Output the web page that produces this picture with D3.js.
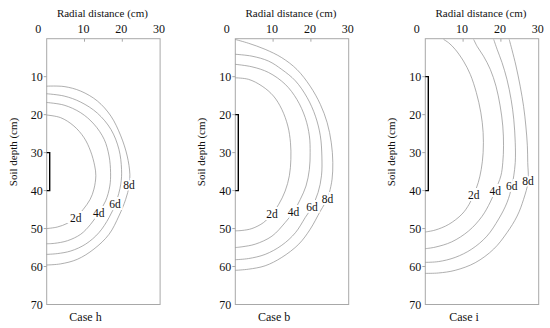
<!DOCTYPE html>
<html>
<head>
<meta charset="utf-8">
<script src="https://d3js.org/d3.v7.min.js"></script>
<style>
  body { margin: 0; background: #fff; }
</style>
</head>
<body>
<script>
"use strict";

// Axis ticks and labels.
var xTickValues = [0, 10, 20, 30];
var yTickValues = [10, 20, 30, 40, 50, 60, 70];
var contourNames = ["2d", "4d", "6d", "8d"];
var caseNames = ["Case h", "Case b", "Case i"];

// Emitter position (soil depth, cm) for each case.
var sourceTop = [30, 20, 10];
var sourceBottom = [40, 40, 40];

// Wetting front contours, [radial distance, soil depth] in cm.
var caseH2d = [[0,20.1],[3.7,20.8],[7.2,23],[9.9,26.1],[11.6,29.6],[12.7,33.5],[13,36.1],[12.5,39.6],[11.5,42.3],[9.7,44.9],[7.7,47.1],[5.5,48.6],[2.8,49.6],[0,50]];
var caseH4d = [[0,16.8],[4.6,17.5],[9,19.5],[12.5,22.5],[15.2,26.5],[16.5,30.9],[16.9,35.3],[16.7,38.8],[15.6,42.7],[13.8,45.8],[11.6,48.9],[9,51.5],[5.5,53.2],[2,53.9],[0,54]];
var caseH6d = [[0,14.5],[4.6,15.1],[9,16.7],[13.4,19.6],[17,23.9],[19.1,29.1],[19.8,34.4],[19.6,38.3],[18.3,43.2],[16.5,47.1],[13.8,51.1],[10.3,54.1],[6.4,55.9],[2.8,56.6],[0,56.8]];
var caseH8d = [[0,12.5],[4.6,12.6],[9,13.8],[13.4,16.4],[17,20.4],[19.6,25.6],[21.3,30.9],[22,35.7],[21.8,38.8],[20.9,42.3],[19.1,46.7],[16.5,51.5],[12.5,55.4],[8.1,58.1],[3.7,59.3],[0,59.6]];

var caseB2d = [[0,10.3],[3.5,10.7],[7.1,12.5],[10.1,15.1],[12.3,18.6],[13.9,23],[14.6,27.4],[14.7,31.8],[14.3,36.1],[13.2,40.1],[11.5,43.6],[9.7,46.2],[7.5,48.4],[4.4,50],[1.8,50.5],[0,50.6]];
var caseB4d = [[0,6.75],[4.4,7.4],[8.8,8.9],[13.2,12],[16.3,16],[18.5,20.8],[19.6,25.6],[19.8,30],[19.6,34.4],[18.7,38.8],[17.2,42.3],[15.4,45.6],[13.2,48.4],[9.7,52],[5.3,54.1],[1.8,54.8],[0,55]];
var caseB6d = [[0,4.1],[4.4,4.6],[8.8,5.9],[12.3,8.1],[15.9,11.1],[19,15.5],[21.2,20.4],[22.5,25.6],[22.9,30.9],[22.8,36.1],[21.9,40.5],[20.3,44.3],[18.5,47.1],[15.9,51.1],[12.3,54.4],[7.9,56.8],[3.5,57.9],[0,58.2]];
var caseB8d = [[0,0.2],[3.5,1.2],[7.9,2.8],[12.3,5],[16.3,8.1],[19.8,12.5],[22.5,17.3],[24.3,22.1],[25.4,27.4],[25.8,32.6],[25.6,37],[24.9,40.5],[24.4,42.1],[22.5,45.4],[19.8,50.2],[16.8,54.1],[12.3,57.6],[7.9,59.8],[3.5,60.7],[0,61]];

var caseI2d = [[4.85,0.2],[6.2,1.1],[7.9,2.8],[10.1,5.9],[11.9,9.4],[13.5,14.2],[14.7,19.5],[15.3,24.7],[15.3,30],[14.8,34.4],[14,37.9],[12.8,41.1],[11.6,43.6],[9.7,46.2],[6.2,48.9],[2.6,50.4],[0,50.9]];
var caseI4d = [[12.8,0.2],[13.7,2],[15.4,4.6],[17.2,8.1],[18.7,12.5],[19.8,17.7],[20.5,23],[20.7,28.2],[20.5,32.6],[20,36.1],[18.5,40],[17.2,43],[15,46.8],[11.5,50.6],[7,53.5],[2.6,54.9],[0,55.3]];
var caseI6d = [[18.1,0.2],[19,2.8],[20.3,6.3],[21.6,10.7],[22.7,16],[23.4,21.2],[23.8,27.4],[23.8,32.6],[23.4,36.1],[22.9,38.9],[21.6,43.2],[19.4,47.5],[16.3,52],[12.3,55.4],[7.9,57.6],[3.5,58.7],[0,58.9]];
var caseI8d = [[22.2,0.2],[22.9,2.8],[24,7.2],[25.1,12.5],[26,17.8],[26.6,23],[27,28.2],[27.1,32.6],[27.2,37.6],[26,42.3],[24.3,46.7],[21.6,51.1],[18.1,55.4],[13.2,59],[7.9,61],[3.5,61.7],[0,61.8]];

// Where the inline contour labels sit, [radial distance, soil depth].
var caseHLabels = [[7.7,47.1],[13.8,45.9],[18.1,43.5],[21.8,38.6]];
var caseBLabels = [[9.7,46.2],[15.4,45.6],[20.3,44.3],[24.4,42.1]];
var caseILabels = [[12.8,41.1],[18.5,40],[22.9,38.9],[27.2,37.6]];

var allCurves = [
  [caseH2d, caseH4d, caseH6d, caseH8d],
  [caseB2d, caseB4d, caseB6d, caseB8d],
  [caseI2d, caseI4d, caseI6d, caseI8d]
];
var allLabels = [caseHLabels, caseBLabels, caseILabels];

// Page layout.
var width = 550, height = 328;
var panelLefts = [46.7, 235.3, 425.3];
var panelWidth = 113.4;
var plotTop = 38.7, plotBottom = 304.5;
var serif = "'Liberation Serif', 'Times New Roman', Tinos, 'DejaVu Serif', serif";

var svg = d3.select("body").append("svg")
    .attr("width", width)
    .attr("height", height)
    .attr("font-family", serif)
    .style("font-family", serif);

svg.append("rect").attr("width", width).attr("height", height).attr("fill", "#fff");

function drawPanel(i) {
  var left = panelLefts[i];
  var x = d3.scaleLinear().domain([0, 30]).range([left, left + panelWidth]);
  var y = d3.scaleLinear().domain([0, 70]).range([plotTop, plotBottom]);
  var g = svg.append("g").attr("fill", "#111");

  // frame
  g.append("rect")
      .attr("x", x(0)).attr("y", y(0))
      .attr("width", x(30) - x(0)).attr("height", y(70) - y(0))
      .attr("fill", "none").attr("stroke", "#a8a8a8").attr("stroke-width", 1);

  // top axis: inward ticks and labels
  g.selectAll(".xtick").data(xTickValues.slice(1, 3)).enter().append("line")
      .attr("x1", function(d) { return x(d); }).attr("x2", function(d) { return x(d); })
      .attr("y1", y(0)).attr("y2", y(0) + 3)
      .attr("stroke", "#a8a8a8");
  g.selectAll(".xlab").data(xTickValues).enter().append("text")
      .attr("x", function(d) { return x(d) + (d === 0 ? -8.5 : -1); })
      .attr("y", 33)
      .attr("text-anchor", "middle")
      .attr("font-size", "12px")
      .text(function(d) { return d; });

  // left axis: outward ticks and labels
  g.selectAll(".ytick").data(yTickValues.slice(0, 6)).enter().append("line")
      .attr("x1", x(0) - 3).attr("x2", x(0))
      .attr("y1", function(d) { return y(d); }).attr("y2", function(d) { return y(d); })
      .attr("stroke", "#a8a8a8");
  g.selectAll(".ylab").data(yTickValues).enter().append("text")
      .attr("x", x(0) - 4)
      .attr("y", function(d) { return y(d); })
      .attr("dy", "0.35em")
      .attr("text-anchor", "end")
      .attr("font-size", "12px")
      .text(function(d) { return d; });

  // axis titles
  g.append("text")
      .attr("x", (x(0) + x(30)) / 2 - 1)
      .attr("y", 17)
      .attr("text-anchor", "middle")
      .attr("font-size", "11px")
      .text("Radial distance (cm)");
  g.append("text")
      .attr("transform", "translate(" + (x(0) - 30) + "," + 152 + ") rotate(-90)")
      .attr("text-anchor", "middle")
      .attr("font-size", "11px")
      .text("Soil depth (cm)");
  g.append("text")
      .attr("x", x(10) + 1)
      .attr("y", 321)
      .attr("text-anchor", "middle")
      .attr("font-size", "12px")
      .text(caseNames[i]);

  // emitter bracket
  g.append("path")
      .attr("d", "M" + x(0) + "," + y(sourceTop[i]) + "H" + (x(0) + 3) +
                 "V" + y(sourceBottom[i]) + "H" + x(0))
      .attr("fill", "none").attr("stroke", "#000").attr("stroke-width", 1.4);

  // contours
  var line = d3.line()
      .x(function(d) { return x(d[0]); })
      .y(function(d) { return y(d[1]); })
      .curve(d3.curveCatmullRom.alpha(0.5));
  g.selectAll(".contour").data(allCurves[i]).enter().append("path")
      .attr("d", line)
      .attr("fill", "none").attr("stroke", "#8c8c8c").attr("stroke-width", 0.7);

  // inline labels with white halo to break the line
  g.selectAll(".clab").data(allLabels[i]).enter().append("text")
      .attr("x", function(d) { return x(d[0]); })
      .attr("y", function(d) { return y(d[1]); })
      .attr("dy", "0.35em")
      .attr("text-anchor", "middle")
      .attr("font-size", "11.5px")
      .attr("stroke", "#fff").attr("stroke-width", 4)
      .attr("paint-order", "stroke")
      .text(function(d, j) { return contourNames[j]; });
}

for (var i = 0; i < 3; i++) drawPanel(i);
</script>
</body>
</html>
